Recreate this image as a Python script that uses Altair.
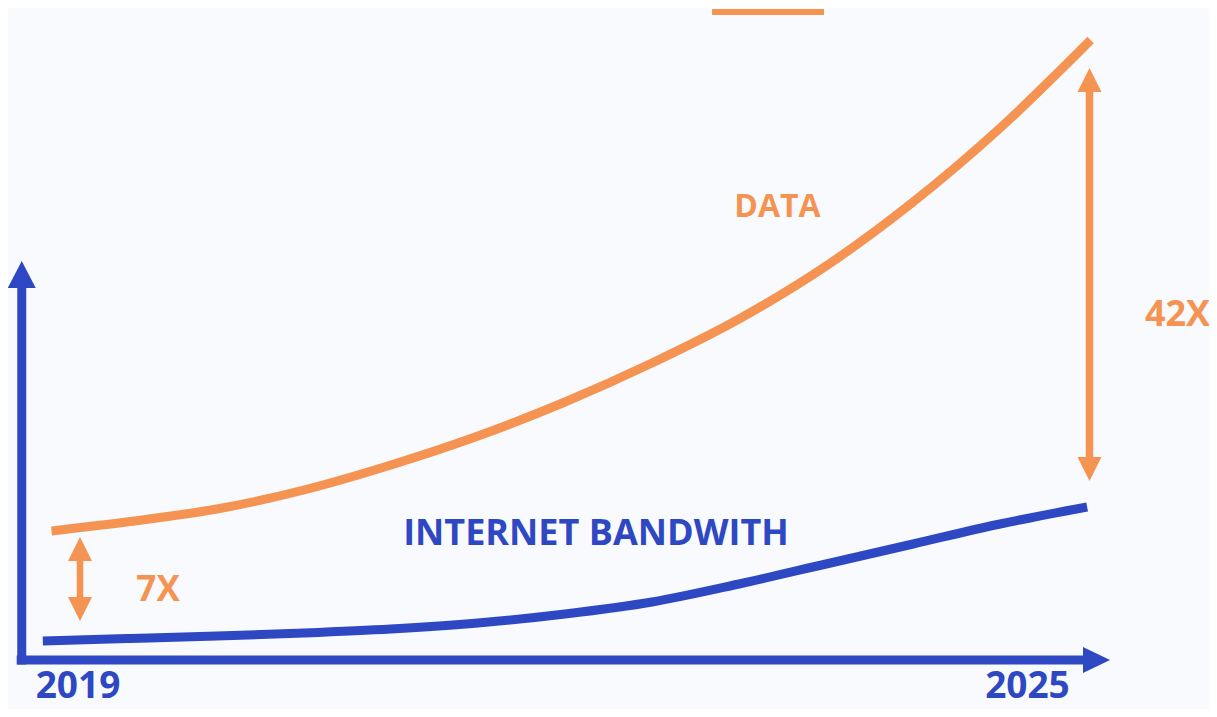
import altair as alt
import pandas as pd

# ---- data ----
data_years = [2019.05, 2019.5, 2020.0, 2020.5, 2021.0, 2021.5, 2022.0, 2022.5,
              2023.0, 2023.5, 2024.0, 2024.5, 2025.02]
data_values = [12.9, 13.85, 15.1, 17.0, 19.5, 22.4, 25.8, 29.7, 34.1, 39.4, 45.8, 53.2, 62.0]

bw_years = [2019.0, 2019.5, 2020.0, 2020.5, 2021.0, 2021.5, 2022.0, 2022.5,
            2023.0, 2023.5, 2024.0, 2024.5, 2025.0]
bw_values = [1.9, 2.15, 2.4, 2.7, 3.1, 3.7, 4.6, 5.8, 7.6, 9.6, 11.6, 13.6, 15.3]

tick_labels = ["2019", "2025"]
series_labels = ["DATA", "INTERNET BANDWITH"]
ratio_labels = ["7X", "42X"]

ORANGE = "#F59452"
BLUE = "#2E48C3"
BG = "#F8FAFD"

xs = alt.Scale(domain=[2018.8, 2025.7], nice=False, zero=False)
ys = alt.Scale(domain=[-4.9, 65.2], nice=False, zero=False)

def X(f="x"):
    return alt.X(f"{f}:Q", scale=xs, axis=None)

def Y(f="y"):
    return alt.Y(f"{f}:Q", scale=ys, axis=None)

# ---- curves ----
df_data = pd.DataFrame({"x": data_years, "y": data_values})
df_bw = pd.DataFrame({"x": bw_years, "y": bw_values})

line_data = alt.Chart(df_data).mark_line(
    interpolate="monotone", strokeWidth=9, strokeCap="butt", color=ORANGE
).encode(x=X(), y=Y())

line_bw = alt.Chart(df_bw).mark_line(
    interpolate="monotone", strokeWidth=9, strokeCap="butt", color=BLUE
).encode(x=X(), y=Y())

# ---- axes (arrows) ----
axis_shafts = pd.DataFrame({
    "x": [2018.879, 2018.85],
    "x2": [2018.879, 2024.99],
    "y": [-0.45, 0.0],
    "y2": [38.0, 0.0],
})
axis_rules = alt.Chart(axis_shafts).mark_rule(
    strokeWidth=9, strokeCap="butt", color=BLUE
).encode(x=X(), x2="x2:Q", y=Y(), y2="y2:Q")

head_up = alt.Chart(pd.DataFrame({"x": [2018.879], "y": [38.5]})).mark_point(
    shape="M0,-1L1,0.93L-1,0.93Z", size=784, filled=True, opacity=1, color=BLUE
).encode(x=X(), y=Y())

head_right = alt.Chart(pd.DataFrame({"x": [2025.051], "y": [0.0]})).mark_point(
    shape="M1,0L-0.93,-0.93L-0.93,0.93Z", size=784, filled=True, opacity=1, color=BLUE
).encode(x=X(), y=Y())

# ---- ratio arrows ----
ratio_shafts = pd.DataFrame({
    "x": [2019.2137, 2025.0133],
    "y": [10.5, 57.4],
    "y2": [5.7, 19.6],
    "w": [6.5, 7.5],
})
ratio_rules = alt.Chart(ratio_shafts).mark_rule(
    strokeCap="butt", color=ORANGE
).encode(x=X(), y=Y(), y2="y2:Q",
         strokeWidth=alt.StrokeWidth("w:Q", scale=None, legend=None))

ups = alt.Chart(pd.DataFrame({"x": [2019.2137, 2025.0133], "y": [11.1, 58.0]})).mark_point(
    shape="M0,-1L1,1L-1,1Z", size=576, filled=True, opacity=1, color=ORANGE
).encode(x=X(), y=Y())

downs = alt.Chart(pd.DataFrame({"x": [2019.2137, 2025.0133], "y": [5.1, 19.1]})).mark_point(
    shape="M0,1L1,-1L-1,-1Z", size=576, filled=True, opacity=1, color=ORANGE
).encode(x=X(), y=Y())

# legend remnant at the top
legend_bar = alt.Chart(pd.DataFrame({"x": [2022.845], "x2": [2023.488], "y": [64.8]})).mark_rule(
    strokeWidth=6, strokeCap="butt", color=ORANGE
).encode(x=X(), x2="x2:Q", y=Y())

# ---- texts ----
txt = pd.DataFrame({
    "label": [series_labels[0], series_labels[1], ratio_labels[0], ratio_labels[1],
              tick_labels[0], tick_labels[1]],
    "x": [2023.221, 2022.178, 2019.662, 2025.519, 2019.202, 2024.657],
    "y": [44.3, 11.5, 5.9, 33.4, -3.75, -3.75],
    "size": [32, 36, 35, 36, 37, 37],
    "col": [ORANGE, BLUE, ORANGE, ORANGE, BLUE, BLUE],
})
texts = alt.Chart(txt).mark_text(
    font="Open Sans", fontWeight="bold", align="center", baseline="alphabetic"
).encode(
    x=X(), y=Y(), text="label:N",
    size=alt.Size("size:Q", scale=None, legend=None),
    color=alt.Color("col:N", scale=None, legend=None),
)

chart = alt.layer(
    line_data, line_bw, axis_rules, head_up, head_right,
    ratio_rules, ups, downs, legend_bar, texts
).properties(
    width=1201, height=701, padding=0, background=BG,
    autosize=alt.AutoSizeParams(type="none"),
).configure_view(stroke=None)

chart.save("out.html", embed_options={"renderer": "svg", "actions": False})
